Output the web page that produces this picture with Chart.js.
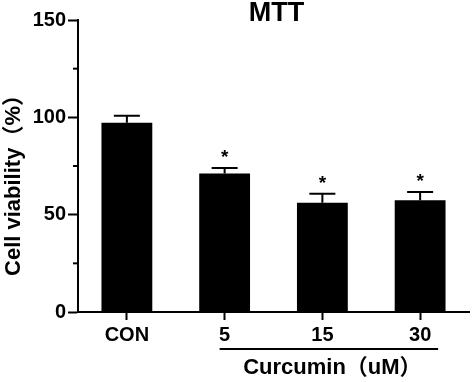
<!DOCTYPE html>
<html>
<head>
<meta charset="utf-8">
<script src="https://cdn.jsdelivr.net/npm/chart.js@4/dist/chart.umd.min.js"></script>
<style>
    body { margin: 0; background: #fff; }
    canvas { display: block; }
</style>
</head>
<body>
<canvas id="mttChart" width="472" height="382"></canvas>
<script>
const categories = ['CON', '5', '15', '30'];
const viability = [97.2, 71.2, 56.1, 57.4];
const errors = [3.6, 2.8, 4.7, 4.2];
const significant = [false, true, true, true];
const majorTicks = [0, 50, 100, 150];
const minorTicks = [25, 75, 125];

const FONT = "'Liberation Sans', Arial, 'Noto Sans CJK SC', sans-serif";

// error bars, stars, minor ticks and the curcumin bracket
const extras = {
    id: 'extras',
    afterDatasetsDraw(chart) {
        const ctx = chart.ctx;
        const x = chart.scales.x;
        const y = chart.scales.y;
        const area = chart.chartArea;
        ctx.save();
        ctx.strokeStyle = '#000';
        ctx.fillStyle = '#000';
        ctx.lineWidth = 2;

        viability.forEach((v, i) => {
            const cx = x.getPixelForValue(i);
            const top = y.getPixelForValue(v);
            const cap = y.getPixelForValue(v + errors[i]);
            ctx.beginPath();
            ctx.moveTo(cx, top);
            ctx.lineTo(cx, cap);
            ctx.moveTo(cx - 13, cap);
            ctx.lineTo(cx + 13, cap);
            ctx.stroke();
            if (significant[i]) {
                ctx.font = 'bold 19px ' + FONT;
                ctx.textAlign = 'center';
                ctx.textBaseline = 'middle';
                ctx.fillText('*', cx, cap - 10);
            }
        });

        // minor ticks on y axis
        minorTicks.forEach(t => {
            const py = y.getPixelForValue(t);
            ctx.beginPath();
            ctx.moveTo(area.left - 5, py);
            ctx.lineTo(area.left, py);
            ctx.stroke();
        });

        // bracket under the curcumin doses
        const lineY = area.bottom + 37;
        ctx.beginPath();
        ctx.moveTo(x.getPixelForValue(1) - 5, lineY);
        ctx.lineTo(x.getPixelForValue(3) + 18, lineY);
        ctx.stroke();
        ctx.font = 'bold 22px ' + FONT;
        ctx.textAlign = 'center';
        ctx.textBaseline = 'middle';
        ctx.fillText('Curcumin（uM）', (x.getPixelForValue(1) + x.getPixelForValue(3)) / 2 + 10, lineY + 19);

        // title
        ctx.font = 'bold 27px ' + FONT;
        ctx.fillText('MTT', (area.left + area.right) / 2 + 3, 14);

        // y axis title
        ctx.translate(14, 180);
        ctx.rotate(-Math.PI / 2);
        ctx.font = 'bold 22px ' + FONT;
        ctx.fillText('Cell viability（%）', 0, 0);
        ctx.restore();
    }
};

const ctx = document.getElementById('mttChart').getContext('2d');
new Chart(ctx, {
    type: 'bar',
    data: {
        labels: categories,
        datasets: [{
            data: viability,
            backgroundColor: '#000',
            borderWidth: 0,
            barPercentage: 0.52,
            categoryPercentage: 1
        }]
    },
    options: {
        responsive: false,
        animation: false,
        layout: { padding: { top: 20, right: 3, left: 0, bottom: 0 } },
        plugins: {
            legend: { display: false },
            tooltip: { enabled: false }
        },
        scales: {
            x: {
                grid: { drawOnChartArea: false, offset: false, tickLength: 8, tickWidth: 2, tickColor: '#000' },
                border: { color: '#000', width: 2 },
                ticks: { color: '#000', font: { family: FONT, size: 20, weight: 'bold' }, padding: 3 },
                afterFit: scale => { scale.height = 70; }
            },
            y: {
                min: 0,
                max: 150,
                afterBuildTicks: scale => { scale.ticks = majorTicks.map(v => ({ value: v })); },
                grid: { drawOnChartArea: false, tickLength: 10, tickWidth: 2, tickColor: '#000' },
                border: { color: '#000', width: 2 },
                ticks: { color: '#000', font: { family: FONT, size: 20, weight: 'bold' }, padding: 2 },
                afterFit: scale => { scale.width = 78; }
            }
        }
    },
    plugins: [extras]
});
</script>
</body>
</html>
